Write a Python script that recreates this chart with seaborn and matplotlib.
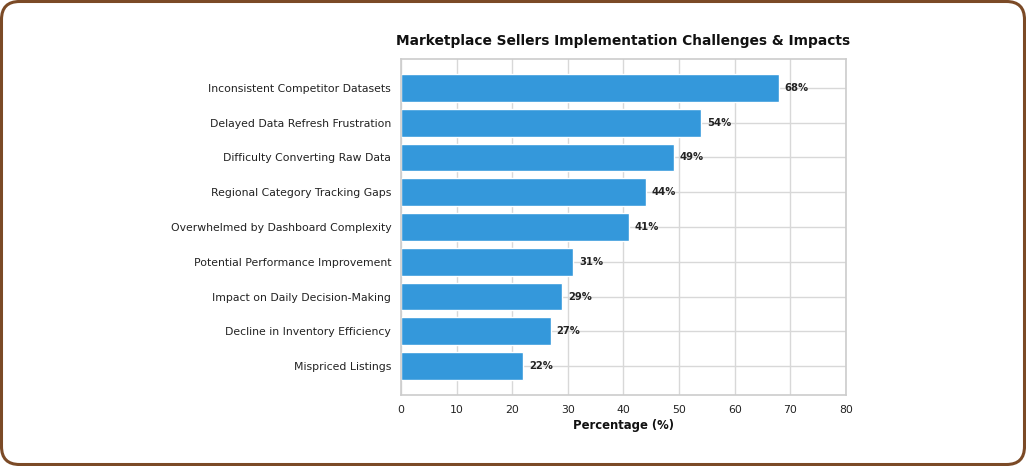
import pandas as pd
import matplotlib.pyplot as plt
import seaborn as sns
from matplotlib.patches import FancyBboxPatch
from matplotlib.transforms import IdentityTransform

# Chart data
challenges = [
    'Inconsistent Competitor Datasets',
    'Delayed Data Refresh Frustration',
    'Difficulty Converting Raw Data',
    'Regional Category Tracking Gaps',
    'Overwhelmed by Dashboard Complexity',
    'Potential Performance Improvement',
    'Impact on Daily Decision-Making',
    'Decline in Inventory Efficiency',
    'Mispriced Listings',
]
percentages = [68, 54, 49, 44, 41, 31, 29, 27, 22]
x_ticks = [0, 10, 20, 30, 40, 50, 60, 70, 80]

df = pd.DataFrame({'Challenge': challenges, 'Percentage': percentages})

sns.set_theme(style='whitegrid')
plt.rcParams['font.family'] = ['DejaVu Sans']

fig = plt.figure(figsize=(10.26, 4.66), dpi=100)
ax = fig.add_axes([0.3908, 0.1524, 0.4337, 0.7210])

sns.barplot(data=df, x='Percentage', y='Challenge', color='#3498db',
            saturation=1, width=0.8, edgecolor='white', linewidth=1, ax=ax)

# Value labels
for i, v in enumerate(percentages):
    ax.text(v + 1, i, f'{v}%', va='center', ha='left',
            fontsize=7.2, fontweight='bold', color='#222222')

ax.set_xlim(0, 80)
ax.set_xticks(x_ticks)
ax.set_ylim(len(challenges) - 1 + 0.83, -0.83)
ax.set_xlabel('Percentage (%)', fontsize=8.4, fontweight='bold', color='#111111', labelpad=3)
ax.set_ylabel('')
ax.set_title('Marketplace Sellers Implementation Challenges & Impacts',
             fontsize=9.9, fontweight='bold', color='#111111', pad=10)
ax.tick_params(axis='y', labelsize=7.8, colors='#222222', length=0, pad=7)
ax.tick_params(axis='x', labelsize=7.8, colors='#222222', length=0, pad=7)
for side in ax.spines.values():
    side.set_color('#cccccc')
    side.set_linewidth(1.2)
ax.grid(True, color='#d8d8d8', linewidth=1)

# Rounded brown frame around the figure (pixel coordinates)
frame = FancyBboxPatch((1.5, 1.5), 1023, 463,
                       boxstyle='round,pad=0,rounding_size=18',
                       transform=IdentityTransform(), facecolor='none',
                       edgecolor='#7b4a26', linewidth=2.2)
fig.patches.append(frame)

fig.savefig('out.png', dpi=100, facecolor='white')
